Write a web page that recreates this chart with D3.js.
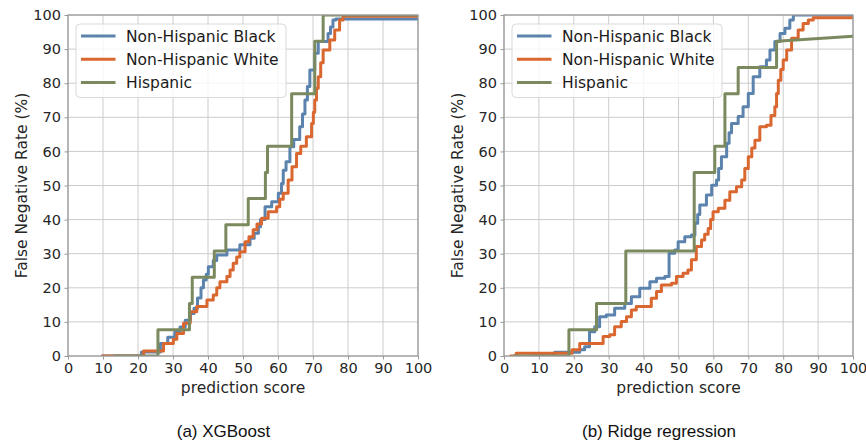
<!DOCTYPE html>
<html>
<head>
<meta charset="utf-8">
<script src="https://cdn.jsdelivr.net/npm/d3@7"></script>
<style>
  html, body { margin: 0; padding: 0; background: #ffffff; }
  svg { display: block; }
</style>
</head>
<body>
<svg id="chart" width="866" height="444"></svg>
<script>
// ---------- DATA ----------
const seriesNames = ["Non-Hispanic Black", "Non-Hispanic White", "Hispanic"];
const panelCaptions = ["(a) XGBoost", "(b) Ridge regression"];
const xTicks = [0, 10, 20, 30, 40, 50, 60, 70, 80, 90, 100];
const yTicks = [0, 10, 20, 30, 40, 50, 60, 70, 80, 90, 100];
const xLabel = "prediction score";
const yLabel = "False Negative Rate (%)";

// step points [score, FNR%] (value holds until next point)
const blackXgb = [[10,0],[21,1.2],[26.4,3.7],[28.5,5.5],[30.5,7],[32,8.5],[33.5,10.5],[35,12.5],[36,14],[37,17],[38,20],[38.7,22.3],[39.5,24],[40.1,26.2],[41.5,28],[42.5,29.6],[45.4,31.1],[49.1,32.6],[52,34.5],[53.2,36],[54.4,37.9],[55,40],[56.3,43.8],[58.2,45.2],[60.1,47.7],[61,50.6],[61.5,54.5],[62.3,57],[63.4,61.4],[64.5,63.5],[66.2,67.2],[67,71],[67.7,75.1],[68.4,79],[69.1,83.9],[70.5,88.8],[71.5,92.2],[74.3,94.6],[75,96.5],[75.7,98.5],[76.5,98.8],[100,98.8]];
const whiteXgb = [[10,0],[21.6,1.5],[27.3,3.7],[30.1,4.9],[31.1,6.6],[33,9.6],[34.9,13],[36.8,14.5],[39.7,16.4],[41.5,17.9],[42.5,20],[43.4,21.8],[45.4,23.3],[46.3,25.2],[47.2,27.2],[48.2,29],[49.1,30.6],[50.6,33.5],[51.7,35],[52.9,37],[54,38.7],[55.3,40.4],[57.2,42.3],[59.6,43.8],[60.5,46],[61.5,47.7],[62.9,51.6],[64,55.5],[65.3,59.4],[66.5,61.5],[68.1,64.3],[69.6,68.2],[70.1,71.5],[70.5,75.1],[71,78.5],[71.5,81.9],[72.2,86],[72.9,89.7],[74.8,92.7],[76.2,95.6],[77.6,98.5],[78.6,99.6],[100,99.6]];
const hispXgb = [[13.5,0],[25.7,7.7],[34.7,15.4],[35.5,23.1],[41.8,30.8],[45.1,38.5],[51.5,46.2],[56.4,53.8],[57,61.5],[63.9,76.9],[70.5,92.3],[72.9,100],[100,100]];

const blackRidge = [[8,0],[14.5,1.1],[21.7,1.8],[23.1,2.7],[24.5,7.1],[26,8.6],[27.4,11.5],[29.3,12],[31.7,14],[34.6,15.4],[36.5,17.4],[38.9,19.9],[41.8,21.8],[43.7,22.8],[46.1,23.3],[47.3,30.1],[48.9,31.1],[49.9,33.5],[51.8,35],[53.7,35.5],[54.7,38.9],[55.5,41.5],[56.1,44.3],[58,47.2],[59.5,50.1],[60.9,51.6],[61.5,55],[62.3,58.4],[63.8,62.4],[64.5,65.5],[65.2,68.2],[67.1,70.2],[68.5,73.1],[70,77],[71.4,81.9],[73.3,84.8],[75.2,86.8],[76.2,89.7],[77.6,92.2],[79.1,94.6],[80.5,96.1],[81.9,98.5],[82.9,100],[100,100]];
const whiteRidge = [[2.1,0],[3.5,0.8],[19.5,1.8],[21.7,3.7],[28.4,5.7],[30.3,6.2],[31.7,8.6],[33.6,10.1],[35.1,11.5],[36.5,13.5],[37.9,14.5],[42.2,16.9],[43.7,18.9],[45.1,20.8],[48,21.3],[49.4,23.3],[51.3,24.3],[52.7,25.2],[53.7,28.2],[55.1,32.1],[56.6,34],[57.5,35.7],[58.5,37.4],[59.2,40],[59.9,42.3],[61.4,43.3],[63.3,45.7],[64.7,48.2],[66.6,49.6],[68.1,51.6],[69,55],[70,58.4],[71,61],[71.9,63.3],[73.3,67.2],[75.2,67.7],[76.5,70.5],[77.6,73.1],[78.1,77],[78.6,80.9],[79.3,84],[80,86.8],[81,89.7],[82.4,93.2],[84.3,95.6],[85.7,97.5],[87.2,98.5],[88.6,99.2],[100,99.2]];
const hispRidge = [[3,0],[18.6,7.7],[26.5,15.4],[34.9,30.8],[54.5,53.8],[60.4,61.5],[63.3,76.9],[67.1,84.6],[78.1,92.3],[100,93.8]];

const colors = ["#5b83ae", "#d9672f", "#7b8a5e"];

// ---------- LAYOUT ----------
const svg = d3.select("#chart");
const plotTop = 15, plotBottom = 356;
const panels = [
  { x0: 68, x1: 418, data: [blackXgb, whiteXgb, hispXgb], caption: panelCaptions[0] },
  { x0: 504, x1: 853, data: [blackRidge, whiteRidge, hispRidge], caption: panelCaptions[1] }
];

const tickFont = "DejaVu Sans, sans-serif";

// expand step points into vertices; the final segment is drawn directly
function expand(pts) {
  const out = [];
  for (let i = 0; i < pts.length; i++) {
    out.push(pts[i]);
    if (i < pts.length - 2) out.push([pts[i + 1][0], pts[i][1]]);
  }
  return out;
}

panels.forEach((p, pi) => {
  const x = d3.scaleLinear().domain([0, 100]).range([p.x0, p.x1]);
  const y = d3.scaleLinear().domain([0, 100]).range([plotBottom, plotTop]);
  const g = svg.append("g");
  const w = p.x1 - p.x0, h = plotBottom - plotTop;

  // grid
  const grid = g.append("g");
  grid.selectAll(".vg").data(xTicks).enter().append("line")
    .attr("x1", d => x(d)).attr("x2", d => x(d))
    .attr("y1", plotTop).attr("y2", plotBottom)
    .attr("stroke", "#cccccc").attr("stroke-width", 1);
  grid.selectAll(".hg").data(yTicks).enter().append("line")
    .attr("y1", d => y(d)).attr("y2", d => y(d))
    .attr("x1", p.x0).attr("x2", p.x1)
    .attr("stroke", "#cccccc").attr("stroke-width", 1);

  // clip
  const cid = "clip" + pi;
  svg.append("defs").append("clipPath").attr("id", cid)
    .append("rect").attr("x", p.x0).attr("y", plotTop).attr("width", w).attr("height", h);

  const line = d3.line().x(d => x(d[0])).y(d => y(d[1]));
  const lines = g.append("g").attr("clip-path", `url(#${cid})`);
  p.data.forEach((s, si) => {
    lines.append("path").attr("d", line(expand(s)))
      .attr("fill", "none").attr("stroke", colors[si])
      .attr("stroke-width", 3).attr("stroke-linejoin", "round").attr("stroke-linecap", "square");
  });

  // spines
  g.append("rect").attr("x", p.x0).attr("y", plotTop).attr("width", w).attr("height", h)
    .attr("fill", "none").attr("stroke", "#999999").attr("stroke-width", 1.25);

  // axes
  const xa = g.append("g").attr("transform", `translate(0,${plotBottom})`)
    .call(d3.axisBottom(x).tickValues(xTicks).tickSize(3.5).tickPadding(3.5).tickFormat(d3.format("d")));
  const ya = g.append("g").attr("transform", `translate(${p.x0},0)`)
    .call(d3.axisLeft(y).tickValues(yTicks).tickSize(3.5).tickPadding(3.5).tickFormat(d3.format("d")));
  [xa, ya].forEach(a => {
    a.select(".domain").remove();
    a.selectAll(".tick line").attr("stroke", "#999999").attr("stroke-width", 1);
    a.selectAll(".tick text").attr("fill", "#262626")
      .style("font-family", tickFont).style("font-size", "14.5px");
  });

  // axis labels
  g.append("text").attr("x", (p.x0 + p.x1) / 2).attr("y", 393)
    .attr("text-anchor", "middle").attr("fill", "#262626")
    .style("font-family", tickFont).style("font-size", "15.5px").text(xLabel);
  g.append("text").attr("transform", `translate(${p.x0 - 41},${(plotTop + plotBottom) / 2}) rotate(-90)`)
    .attr("text-anchor", "middle").attr("fill", "#262626")
    .style("font-family", tickFont).style("font-size", "15.5px").text(yLabel);

  // caption
  g.append("text").attr("x", pi === 0 ? 223.5 : 659).attr("y", 437)
    .attr("text-anchor", "middle").attr("fill", "#111")
    .style("font-family", "Liberation Sans, Arial, sans-serif").style("font-size", "17px")
    .text(p.caption);

  // legend
  const lx = p.x0 + 8, ly = 24;
  const leg = g.append("g");
  leg.append("rect").attr("x", lx).attr("y", ly).attr("width", 210).attr("height", 73.5)
    .attr("rx", 4).attr("fill", "#ffffff").attr("fill-opacity", 0.8)
    .attr("stroke", "#d9d9d9").attr("stroke-width", 1);
  seriesNames.forEach((n, i) => {
    const yy = ly + 12 + i * 23.2;
    leg.append("line").attr("x1", lx + 5).attr("x2", lx + 39.5).attr("y1", yy).attr("y2", yy)
      .attr("stroke", colors[i]).attr("stroke-width", 3);
    leg.append("text").attr("x", lx + 50).attr("y", yy).attr("dy", "0.36em")
      .attr("fill", "#1a1a1a").style("font-family", tickFont).style("font-size", "15.5px")
      .text(n);
  });
});
</script>
</body>
</html>
